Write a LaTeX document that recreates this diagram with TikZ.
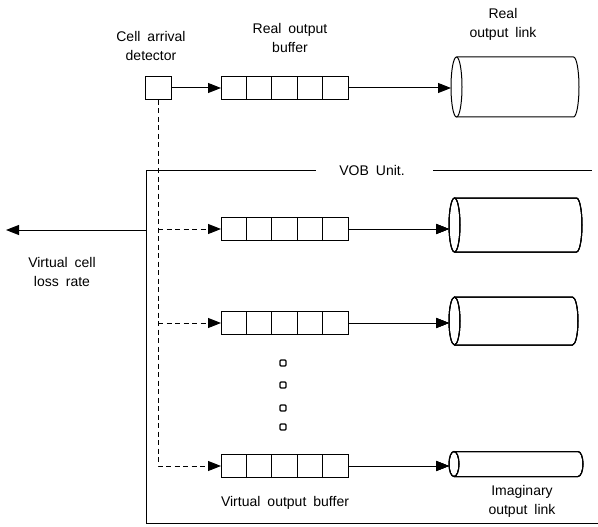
\documentclass[tikz,border=0pt]{standalone}
\usepackage{fontspec}
\setmainfont[WordSpace=1.8]{Liberation Sans}
\usetikzlibrary{arrows.meta,calc}
\tikzset{
  cellbox/.style={draw, line width=1pt, minimum width=26pt, minimum height=23pt, inner sep=0pt},
  buf/.style={draw, line width=1pt, minimum width=127pt, minimum height=23pt, inner sep=0pt, anchor=west},
  arrow/.style={-{Triangle[length=13pt,width=10pt]}, line width=1pt},
  darrow/.style={arrow, dash pattern=on 5pt off 3.5pt},
  lbl/.style={font=\fontsize{14}{19}\selectfont, align=center},
  dot/.style={draw, line width=1.3pt, minimum size=6pt, inner sep=0pt, rounded corners=1pt}
}
\newcommand{\bufcells}[1]{%
  \foreach \k in {1,...,4}
    \draw[line width=1pt] ([xshift=\k*25.4pt]#1.south west) -- ([xshift=\k*25.4pt]#1.north west);}
% name, left x, centre y, length, half height, end radius
\newcommand{\pipe}[6]{%
  \coordinate (#1) at (#2,#3);
  \draw[line width=1pt] (#2+#6,#3) ellipse [x radius=#6, y radius=#5];
  \draw[line width=1pt] (#2+#6,#3+#5) -- (#2+#4-#6,#3+#5)
    arc[start angle=90, end angle=-90, x radius=#6, y radius=#5] -- (#2+#6,#3-#5);}

\begin{document}
\begin{tikzpicture}[x=1pt, y=1pt]
  \useasboundingbox (0,0) rectangle (598,-527);
  % real path
  \node[cellbox] (det) at (158,-88) {};
  \node[buf] (rob) at (221,-88) {};
  \bufcells{rob}
  \pipe{rol}{451}{-87}{128}{30}{5.5}
  \draw[arrow] (det.east) -- (rob.west);
  \draw[arrow] (rob.east) -- (rol |- rob.east);
  \node[lbl] (ldet) at (151,-46) {Cell arrival\\detector};
  \node[lbl] (lrob) at (290,-38) {Real output\\buffer};
  \node[lbl] (lrol) at (503,-24) {Real\\output link};
  % VOB unit frame
  \node[lbl] (vob) at (372,-170) {VOB Unit.};
  \coordinate (ftl) at (146,-170);
  \coordinate (fbl) at (146,-523);
  \coordinate (fbr) at (598,-523);
  \coordinate (ftr) at (592,-170);
  \draw[line width=1pt] (vob.west) ++(-20,0) coordinate (fa) -- (ftl) -- (fbl) -- (fbr);
  \draw[line width=1pt] (vob.east) ++(25,0) coordinate (fb) -- (ftr);
  % virtual buffers and links
  \node[buf] (vb1) at (221,-229) {};
  \node[buf] (vb2) at (221,-323) {};
  \node[buf] (vb3) at (221,-466) {};
  \foreach \b in {vb1,vb2,vb3} \bufcells{\b}
  \pipe{vl1}{449}{-225}{133}{27}{5.5}
  \pipe{vl2}{449}{-321}{129}{24}{5.5}
  \pipe{vl3}{449}{-464}{134}{12.5}{5}
  \foreach \i in {1,2,3} \draw[arrow] (vb\i.east) -- (vl\i |- vb\i.east);
  % dashed feed from detector
  \coordinate (j1) at (158,-229);
  \coordinate (j2) at (158,-323);
  \coordinate (j3) at (158,-466);
  \draw[darrow] (det.south) -- (j3) -- (vb3.west);
  \draw[darrow] (j1) -- (vb1.west);
  \draw[darrow] (j2) -- (vb2.west);
  \foreach \y in {363,385,408,427} \node[dot] at (283,-\y) {};
  \node[lbl] (lvb) at (285,-503) {Virtual output buffer};
  \node[lbl] (lvl) at (522,-501) {Imaginary\\output link};
  % loss rate output
  \coordinate (lo) at (146,-230);
  \coordinate (le) at (6,-230);
  \draw[arrow] (lo) -- (le);
  \node[lbl] (lloss) at (62,-272) {Virtual cell\\loss rate};
\end{tikzpicture}
\end{document}
